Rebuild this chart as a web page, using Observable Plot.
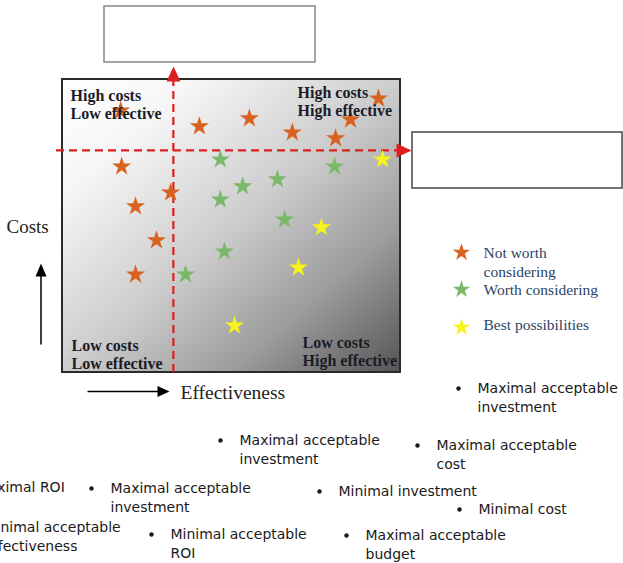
<!DOCTYPE html>
<html><head><meta charset="utf-8">
<script src="https://cdn.jsdelivr.net/npm/d3@7"></script>
<script src="https://cdn.jsdelivr.net/npm/@observablehq/plot@0.6"></script>
<style>html,body{margin:0;padding:0;background:#fff;overflow:hidden}#chart svg{display:block}</style>
</head><body><div id="chart"></div>
<script>
// ---------- data ----------
const groups = ["Not worth considering", "Worth considering", "Best possibilities"];
const groupColors = ["#d8621f", "#7cb86a", "#f6f21c"];
const notWorthEffectiveness = [93.5, 85.2, 80.8, 68.0, 55.3, 40.5, 17.2, 17.5, 32.0, 21.6, 27.8, 21.6];
const notWorthCosts         = [93.5, 86.3, 79.9, 81.9, 86.7, 84.0, 89.4, 70.3, 61.4, 56.7, 45.1, 33.4];
const worthEffectiveness = [46.7, 80.5, 53.3, 63.6, 46.7, 65.7, 47.9, 36.4];
const worthCosts         = [72.7, 70.3, 63.5, 65.9, 59.0, 52.2, 41.3, 33.4];
const bestEffectiveness = [94.7, 76.6, 69.8, 50.9];
const bestCosts         = [72.7, 49.5, 35.8, 16.0];
const effectivenessThreshold = 32.8;
const costThreshold = 75.8;
const quadrantLabels = [["High costs", "Low effective"], ["High costs", "High effective"], ["Low costs", "Low effective"], ["Low costs", "High effective"]];
const legendLabels = [["Not worth", "considering"], ["Worth considering"], ["Best possibilities"]];
const axisLabels = ["Costs", "Effectiveness"];
const criteriaLabels = [
  ["Maximal acceptable", "investment"],
  ["Maximal acceptable", "investment"],
  ["Maximal acceptable", "cost"],
  ["Maximal ROI"],
  ["Maximal acceptable", "investment"],
  ["Minimal investment"],
  ["Minimal cost"],
  ["Minimal acceptable", "effectiveness"],
  ["Minimal acceptable", "ROI"],
  ["Maximal acceptable", "budget"]
];

// ---------- layout (pixels) ----------
const W = 623, H = 563;
const panel = {left: 62, right: 400, top: 79, bottom: 372};
const kx = (panel.right - panel.left) / 100, ky = (panel.bottom - panel.top) / 100;
const X = p => (p - panel.left) / kx;
const Y = p => (panel.bottom - p) / ky;
const quadrantPos = [[70, 95], [297, 92], [71, 345], [302, 342]];
const quadrantGap = 18.5;
const legendStarPos = [[461, 252], [461, 289], [461, 327]];
const legendTextPos = [[483, 253], [483, 271.5], [483, 290], [483, 325]];
const legendGap = 19;
const criteriaPos = [[477, 388], [239, 440], [436, 445], [-24, 487], [110, 488], [338, 491], [478, 509], [-16, 527], [170, 534], [365, 535]];
const criteriaGap = 19.5;
const boxes = [[104, 6, 315, 62, "#888"], [412, 132, 622, 188, "#444"]];

// ---------- tables ----------
const stars = [
  ...notWorthEffectiveness.map((e, i) => ({effectiveness: e, costs: notWorthCosts[i], group: groups[0]})),
  ...worthEffectiveness.map((e, i) => ({effectiveness: e, costs: worthCosts[i], group: groups[1]})),
  ...bestEffectiveness.map((e, i) => ({effectiveness: e, costs: bestCosts[i], group: groups[2]}))
];
const lines = (labels, pos, gap) => labels.flatMap((ls, i) => ls.map((t, j) => ({text: t, x: X(pos[i][0]), y: Y(pos[i][1] + j * gap)})));
const quadrantText = lines(quadrantLabels, quadrantPos, quadrantGap);
const legendText = legendLabels.flat().map((t, i) => ({text: t, x: X(legendTextPos[i][0]), y: Y(legendTextPos[i][1])}));
const criteriaText = lines(criteriaLabels, criteriaPos, criteriaGap);
const bullets = criteriaPos.map(([px, py]) => ({x: X(px - 19), y: Y(py)}));
const legendStars = groups.map((g, i) => ({group: g, x: X(legendStarPos[i][0]), y: Y(legendStarPos[i][1])}));
const tri = (pts, id) => pts.map(([px, py]) => ({x: X(px), y: Y(py), id}));
const arrowHeads = [
  ...tri([[173, 66], [166, 81], [180, 81]], "rv"),
  ...tri([[411, 150], [396, 143], [396, 157]], "rh")
];
const blackHeads = [
  ...tri([[40.5, 263], [35, 276], [46, 276]], "bv"),
  ...tri([[169, 391], [157, 385.5], [157, 396.5]], "bh")
];

const serif = "'Liberation Serif', 'DejaVu Serif', serif";
const sans = "'DejaVu Sans', sans-serif";

const chart = Plot.plot({
  width: W, height: H, margin: 0,
  x: {domain: [X(0), X(W)], range: [0, W], axis: null},
  y: {domain: [Y(H), Y(0)], range: [H, 0], axis: null},
  color: {domain: groups, range: groupColors},
  marks: [
    // panel
    Plot.rect([0], {x1: X(panel.left), x2: X(panel.right), y1: Y(panel.bottom), y2: Y(panel.top), fill: "url(#panelGrad)", stroke: "#2a2a2a", strokeWidth: 2}),
    // empty boxes
    Plot.rect(boxes, {x1: d => X(d[0]), x2: d => X(d[2]), y1: d => Y(d[3]), y2: d => Y(d[1]), fill: "white", stroke: d => d[4], strokeWidth: 1.5}),
    // threshold lines
    Plot.ruleX([effectivenessThreshold], {y1: Y(panel.bottom), y2: Y(80), stroke: "#dc2020", strokeWidth: 2.2, strokeDasharray: "8,5"}),
    Plot.ruleY([costThreshold], {x1: X(56), x2: X(397), stroke: "#dc2020", strokeWidth: 2.2, strokeDasharray: "8,5"}),
    Plot.line(arrowHeads, {x: "x", y: "y", z: "id", fill: "#dc2020", stroke: "none"}),
    // stars
    Plot.dot(stars, {x: "effectiveness", y: "costs", fill: "group", symbol: "star", r: 6, stroke: "none"}),
    // quadrant labels
    Plot.text(quadrantText, {x: "x", y: "y", text: "text", textAnchor: "start", lineAnchor: "middle", fontFamily: serif, fontWeight: "bold", fontSize: 16, fill: "#1b1b28"}),
    // legend
    Plot.dot(legendStars, {x: "x", y: "y", fill: "group", symbol: "star", r: 5.5, stroke: "none"}),
    Plot.text(legendText, {x: "x", y: "y", text: "text", textAnchor: "start", lineAnchor: "middle", fontFamily: serif, fontSize: 15.5, fill: "#2a4466"}),
    // axis arrows and labels
    Plot.link([0], {x1: X(40.5), x2: X(40.5), y1: Y(344), y2: Y(272), stroke: "black", strokeWidth: 1.5}),
    Plot.link([0], {x1: X(87), x2: X(160), y1: Y(391), y2: Y(391), stroke: "black", strokeWidth: 1.5}),
    Plot.line(blackHeads, {x: "x", y: "y", z: "id", fill: "black", stroke: "none"}),
    Plot.text([axisLabels[0]], {x: X(6), y: Y(226.5), text: d => d, textAnchor: "start", lineAnchor: "middle", fontFamily: serif, fontSize: 19, fill: "#222"}),
    Plot.text([axisLabels[1]], {x: X(180), y: Y(392.5), text: d => d, textAnchor: "start", lineAnchor: "middle", fontFamily: serif, fontSize: 19.5, fill: "#222"}),
    // criteria bullets
    Plot.dot(bullets, {x: "x", y: "y", r: 2.2, fill: "#1a1a1a"}),
    Plot.text(criteriaText, {x: "x", y: "y", text: "text", textAnchor: "start", lineAnchor: "middle", fontFamily: sans, fontSize: 14, fill: "#1a1a1a"})
  ]
});

const defs = d3.select(chart).insert("defs", ":first-child");
const g = defs.append("linearGradient").attr("id", "panelGrad").attr("x1", 0).attr("y1", 0).attr("x2", 1).attr("y2", 1);
[[0, "#ffffff"], [0.2, "#f6f6f6"], [0.5, "#cdcdcd"], [0.75, "#9c9c9c"], [1, "#555555"]].forEach(([o, c]) => g.append("stop").attr("offset", o).attr("stop-color", c));

document.getElementById("chart").appendChild(chart);
</script>
</body></html>
